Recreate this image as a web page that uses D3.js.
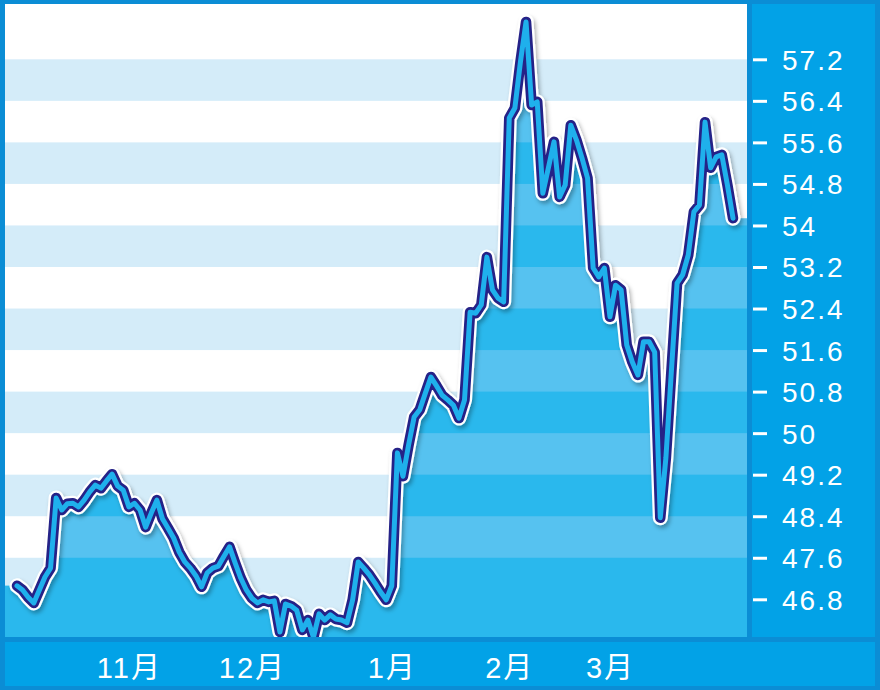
<!DOCTYPE html>
<html><head><meta charset="utf-8">
<script src="https://cdn.jsdelivr.net/npm/d3@7/dist/d3.min.js"></script>
<style>html,body{margin:0;padding:0;background:#0b8dd5;} svg{display:block}</style>
</head><body><svg id="c" width="880" height="690"></svg>
<script>
// ---- data ----
const values = [
  47.06, 46.98, 46.84, 46.73, 46.98, 47.23, 47.40, 48.75, 48.52, 48.64,
  48.65, 48.58, 48.71, 48.87, 49.00, 48.94, 49.08, 49.21, 48.98, 48.90,
  48.58, 48.65, 48.52, 48.19, 48.46, 48.71, 48.35, 48.17, 47.98, 47.71,
  47.52, 47.40, 47.25, 47.04, 47.31, 47.40, 47.44, 47.63, 47.81, 47.50,
  47.21, 46.98, 46.82, 46.73, 46.79, 46.75, 46.77, 46.17, 46.71, 46.67,
  46.59, 46.21, 46.40, 46.07, 46.52, 46.40, 46.50, 46.42, 46.40, 46.35,
  46.79, 47.52, 47.40, 47.27, 47.11, 46.94, 46.79, 47.06, 49.62, 49.17,
  49.77, 50.31, 50.45, 50.77, 51.08, 50.91, 50.73, 50.64, 50.54, 50.29,
  50.64, 52.33, 52.31, 52.47, 53.39, 52.76, 52.60, 52.53, 56.07, 56.26,
  57.15, 57.92, 56.32, 56.38, 54.62, 55.11, 55.61, 54.55, 54.78, 55.93,
  55.65, 55.30, 54.91, 53.18, 53.01, 53.18, 52.24, 52.85, 52.76, 51.70,
  51.37, 51.12, 51.76, 51.76, 51.56, 48.37, 49.52, 51.22, 52.89, 53.05,
  53.43, 54.26, 54.39, 55.99, 55.11, 55.32, 55.36, 54.78, 54.14
];
const monthLabels = ["11月", "12月", "1月", "2月", "3月"];
const monthIndex  = [20, 42, 67, 88, 106];
const yTicks = [46.8, 47.6, 48.4, 49.2, 50, 50.8, 51.6, 52.4, 53.2, 54, 54.8, 55.6, 56.4, 57.2];

// ---- layout ----
const W = 880, H = 690;
const plot = {left: 5, right: 747, top: 4, bottom: 637};
const svg = d3.select("#c");
const FONT = "'Liberation Sans', Arimo, Arial, 'Noto Sans CJK SC', sans-serif";

const x = d3.scaleLinear().domain([0, values.length - 1]).range([17, 733]);
const y = d3.scaleLinear().domain([46.8, 57.2]).range([599.3, 59.3]);

const defs = svg.append("defs");
defs.append("clipPath").attr("id", "plotClip").append("rect")
  .attr("x", plot.left).attr("y", plot.top)
  .attr("width", plot.right - plot.left).attr("height", plot.bottom - plot.top);
const f = defs.append("filter").attr("id", "shadow")
  .attr("x", "-20%").attr("y", "-20%").attr("width", "140%").attr("height", "140%");
f.append("feDropShadow").attr("dx", 2).attr("dy", 3).attr("stdDeviation", 2)
  .attr("flood-color", "#000").attr("flood-opacity", 0.3);

// background frame
svg.append("rect").attr("width", W).attr("height", H).attr("fill", "#0b8dd5");
// right panel
svg.append("rect").attr("x", 752).attr("y", plot.top).attr("width", 875 - 752)
  .attr("height", plot.bottom - plot.top).attr("fill", "#02a2e7");
// bottom panel
svg.append("rect").attr("x", plot.left).attr("y", 642).attr("width", 875 - plot.left)
  .attr("height", 686 - 642).attr("fill", "#02a2e7");

const g = svg.append("g").attr("clip-path", "url(#plotClip)");
g.append("rect").attr("x", plot.left).attr("y", plot.top)
  .attr("width", plot.right - plot.left).attr("height", plot.bottom - plot.top).attr("fill", "#ffffff");

// bands between tick pairs (2k, 2k+1); lowest band extends to plot bottom
const bands = [];
for (let k = 0; k + 1 < yTicks.length; k += 2) {
  const lo = k === 0 ? y.invert(plot.bottom) : yTicks[k];
  bands.push([lo, yTicks[k + 1]]);
}
g.selectAll("rect.band").data(bands).join("rect").attr("class", "band")
  .attr("x", plot.left).attr("width", plot.right - plot.left)
  .attr("y", d => y(d[1])).attr("height", d => y(d[0]) - y(d[1]))
  .attr("fill", "#d4ecf9");

// area
const pts = values.map((v, i) => [x(i), y(v)]);
const areaPts = [[plot.left, y(values[0])], ...pts, [plot.right, y(values[values.length - 1])]];
const area = d3.area().x(d => d[0]).y0(plot.bottom).y1(d => d[1]);
defs.append("clipPath").attr("id", "areaClip").append("path").attr("d", area(areaPts));
g.append("path").attr("d", area(areaPts)).attr("fill", "#56c2f0");
g.append("g").attr("clip-path", "url(#areaClip)")
  .selectAll("rect").data(bands).join("rect")
  .attr("x", plot.left).attr("width", plot.right - plot.left)
  .attr("y", d => y(d[1])).attr("height", d => y(d[0]) - y(d[1]))
  .attr("fill", "#2ab8ed");

// line
const line = d3.line().x(d => d[0]).y(d => d[1]);
const lg = g.append("g").attr("fill", "none")
  .attr("stroke-linejoin", "round").attr("stroke-linecap", "round");
lg.append("path").attr("d", line(pts)).attr("stroke", "#ffffff").attr("stroke-width", 15)
  .attr("filter", "url(#shadow)");
lg.append("path").attr("d", line(pts)).attr("stroke", "#252287").attr("stroke-width", 10.5);
lg.append("path").attr("d", line(pts)).attr("stroke", "#1fb0ec").attr("stroke-width", 5);

// y axis (right)
const yAxis = d3.axisRight(y).tickValues(yTicks).tickSize(15).tickPadding(15)
  .tickFormat(d => String(d));
const ya = svg.append("g").attr("transform", "translate(752,0)").call(yAxis);
ya.select(".domain").remove();
ya.selectAll(".tick line").attr("stroke", "#ffffff").attr("stroke-width", 3).attr("x1", 1);
ya.selectAll(".tick text").attr("fill", "#ffffff").attr("font-family", FONT)
  .attr("font-size", 28).attr("letter-spacing", 2).attr("dy", "0.357em");

// x axis (bottom)
const xAxis = d3.axisBottom(x).tickValues(monthIndex).tickSize(0)
  .tickFormat((d, i) => monthLabels[i]);
const xa = svg.append("g").call(xAxis);
xa.select(".domain").remove();
xa.selectAll(".tick line").remove();
xa.selectAll(".tick text").attr("fill", "#ffffff").attr("font-family", FONT)
  .attr("font-size", 29).attr("letter-spacing", 2).attr("y", 678).attr("dy", 0);
</script></body></html>
